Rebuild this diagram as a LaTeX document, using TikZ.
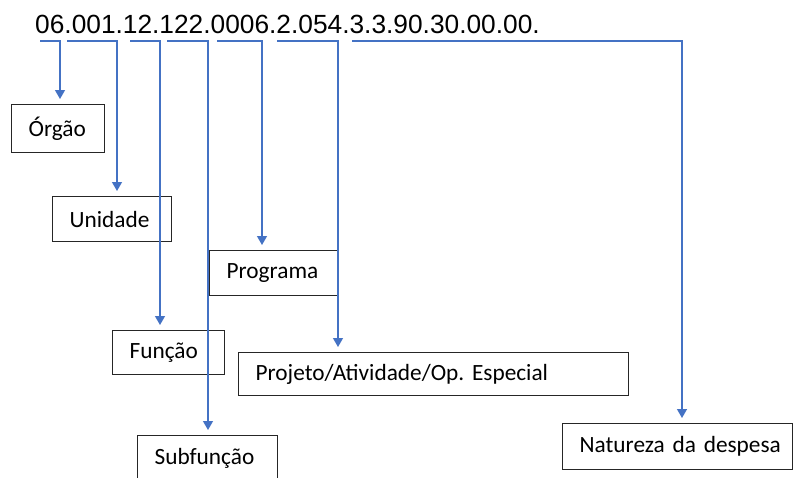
\documentclass[tikz,border=0pt]{standalone}
\usepackage{fontspec}
\setmainfont{Carlito}
\newfontfamily\codefont{Liberation Sans}
\usepackage{tikz}
\usetikzlibrary{positioning,calc,arrows.meta}
\definecolor{linkblue}{RGB}{68,114,196}
\frenchspacing

\begin{document}
\begin{tikzpicture}[x=1pt,y=-1pt,
	box/.style={draw=black!85, line width=1.3pt, anchor=north west, align=left, inner xsep=17pt, inner ysep=0pt, font=\fontsize{23.3}{27}\selectfont},
	link/.style={draw=linkblue, line width=1.3pt, -{Triangle[width=10pt,length=9pt]}, shorten >=5pt}]
				\useasboundingbox[fill=white] (0,0) rectangle (793,477);
				\node[inner sep=0pt, anchor=base west, font=\codefont\fontsize{26.3}{30}\selectfont] (code) at (35,33) {06.001.12.122.0006.2.054.3.3.90.30.00.00.};
				\node[box, text width=59pt, minimum height=48pt] (orgao) at (11,104) {Órgão};
				\node[box, text width=85pt, minimum height=45pt] (unidade) at (52,196) {Unidade};
				\node[box, text width=78pt, minimum height=44pt] (funcao) at (112,330) {Função};
				\node[box, text width=106pt, minimum height=45pt] (subfuncao) at (137,435) {Subfunção};
				\node[box, text width=95pt, minimum height=45pt] (programa) at (209,250) {Programa};
				\node[box, text width=356pt, minimum height=43pt] (projeto) at (238,352) {Projeto/Atividade/Op. Especial};
				\node[box, text width=196pt, minimum height=46pt] (natureza) at (562,423) {\mbox{Natureza da despesa}};
				\coordinate (a1) at (40,41);  \coordinate (t1) at (60,41);
				\coordinate (a2) at (67,41);  \coordinate (t2) at (117,41);
				\coordinate (a3) at (130,41); \coordinate (t3) at (160,41);
				\coordinate (a4) at (167,41); \coordinate (t4) at (208,41);
				\coordinate (a5) at (217,41); \coordinate (t5) at (262,41);
				\coordinate (a6) at (277,41); \coordinate (t6) at (338,41);
				\coordinate (a7) at (352,41); \coordinate (t7) at (682,41);
				\draw[link] (a1) -- (t1) -- (t1 |- orgao.north);
				\draw[link] (a2) -- (t2) -- (t2 |- unidade.north);
				\draw[link] (a3) -- (t3) -- (t3 |- funcao.north);
				\draw[link] (a4) -- (t4) -- (t4 |- subfuncao.north);
				\draw[link] (a5) -- (t5) -- (t5 |- programa.north);
				\draw[link] (a6) -- (t6) -- (t6 |- projeto.north);
				\draw[link] (a7) -- (t7) -- (t7 |- natureza.north);
				\end{tikzpicture}
\end{document}
